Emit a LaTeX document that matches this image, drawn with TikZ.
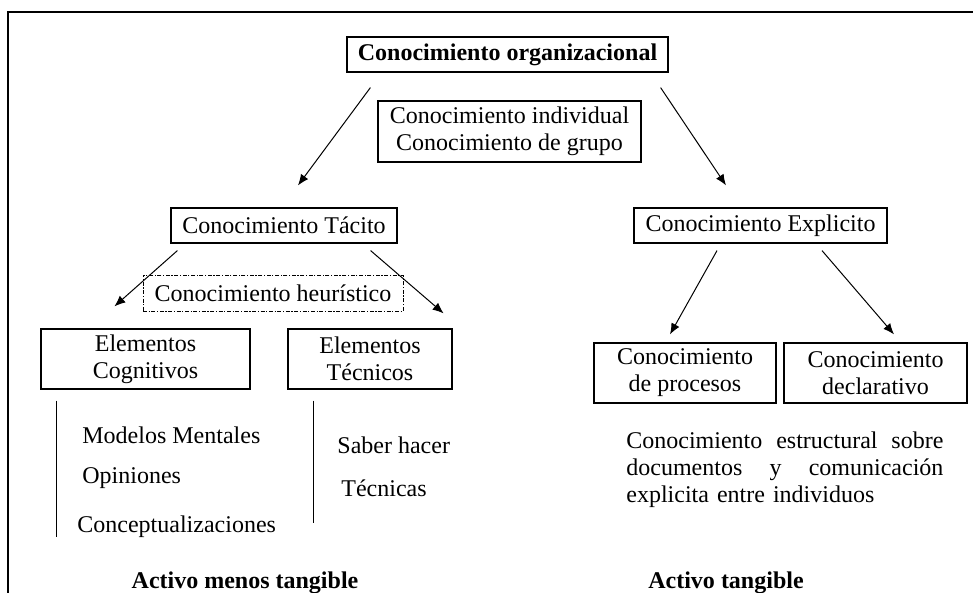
\documentclass[tikz,border=0pt]{standalone}
\usepackage{fontspec}
\setmainfont{Liberation Serif}
\usetikzlibrary{arrows.meta}

\begin{document}
\begin{tikzpicture}[> = {Latex[length = 5.5pt, width = 4.5pt]}, x = 0.5pt, y = -0.5pt, font = \fontsize{12}{13.5}\selectfont]

	\tikzset{
		caja/.style = {draw, line width = 0.6pt, inner sep = 0pt, align = center, minimum height = 17.5pt},
		caja doble/.style = {caja, minimum height = 30pt},
		texto/.style = {inner sep = 0pt, anchor = base west},
		flecha/.style = {->, line width = 0.5pt}
	}

	\useasboundingbox (0, 0) rectangle (973, 593);

	% Frame
	
	\draw [line width = 1pt] (973, 12) -- (8, 12) -- (8, 593);

	% Boxes
	
	\node [caja, minimum width = 160.5pt] (org) at (507.5, 54.5) {\textbf{Conocimiento organizacional}};
	\node [caja doble, minimum width = 131.5pt, minimum height = 30.5pt] (grupo) at (509.5, 131.5) {Conocimiento individual\\Conocimiento de grupo};
	\node [caja, minimum width = 113pt] (tacito) at (284, 225.5) {Conocimiento Tácito};
	\node [caja, minimum width = 126.5pt] (explicito) at (760.5, 225.5) {Conocimiento Explicito};
	\node [caja, minimum width = 130pt, minimum height = 18pt, line width = 0.5pt, dash pattern = on 2pt off 0.8pt on 0.6pt off 0.8pt] (heuristico) at (273, 293) {Conocimiento heurístico};
	\node [caja doble, minimum width = 104.5pt] (cognitivos) at (145.5, 359) {Elementos\\Cognitivos};
	\node [caja doble, minimum width = 82pt] (tecnicos) at (370, 359) {Elementos\\Técnicos};
	\node [caja doble, minimum width = 91pt] (procesos) at (685, 373) {Conocimiento\\de procesos};
	\node [caja doble, minimum width = 91.5pt] (declarativo) at (875.5, 373) {Conocimiento\\declarativo};

	% Arrows
	
	\draw [flecha] ([shift = {(24, 15)}] org.south west) -- ([shift = {(14, -22)}] tacito.north);
	\draw [flecha] ([shift = {(-8, 15)}] org.south east) -- ([shift = {(-34.5, -22)}] explicito.north);
	\draw [flecha] ([shift = {(7, 7)}] tacito.south west) -- ([shift = {(74, -22)}] cognitivos.north west);
	\draw [flecha] ([shift = {(-27, 7)}] tacito.south east) -- ([shift = {(-9, -15)}] tecnicos.north east);
	\draw [flecha] ([shift = {(-43.5, 7)}] explicito.south) -- ([shift = {(-15, -8)}] procesos.north);
	\draw [flecha] ([shift = {(61.5, 7)}] explicito.south) -- ([shift = {(18.5, -8)}] declarativo.north);

	% Lists
	
	\draw [line width = 0.5pt] ([shift = {(16, 11)}] cognitivos.south west) -- ([shift = {(16, 147)}] cognitivos.south west);
	\draw [line width = 0.5pt] ([shift = {(26, 11)}] tecnicos.south west) -- ([shift = {(26, 133)}] tecnicos.south west);

	\node [texto] (modelos) at (82, 443) {Modelos Mentales};
	\node [texto] (opiniones) at (82, 483) {Opiniones};
	\node [texto] (conceptos) at (77, 532) {Conceptualizaciones};
	\node [texto] (saber) at (337, 453) {Saber hacer};
	\node [texto] (tecnicas) at (341, 496) {Técnicas};

	\node [inner sep = 0pt, anchor = north west, text width = 158.5pt, align = left] (estructural) at (626, 431)
		{Conocimiento \hfill estructural \hfill sobre\\documentos \hfill y \hfill comunicación\\explicita entre individuos};

	% Footer
	
	\node [inner sep = 0pt, anchor = base] (menos) at (245, 588) {\textbf{Activo menos tangible}};
	\node [inner sep = 0pt, anchor = base] (tangible) at (726, 588) {\textbf{Activo tangible}};

\end{tikzpicture}
\end{document}
